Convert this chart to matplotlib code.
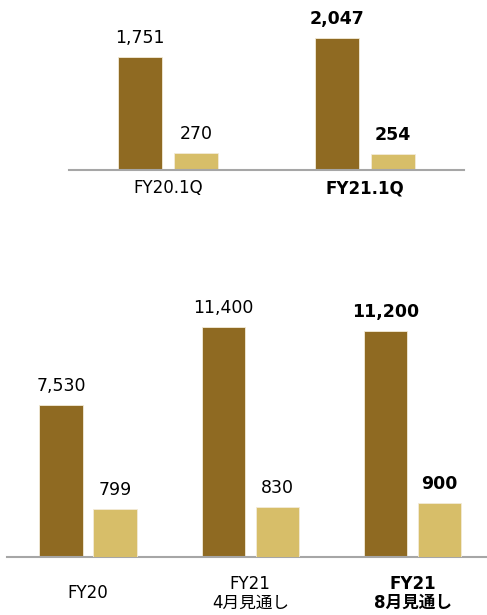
import numpy as np
import matplotlib.pyplot as plt
from matplotlib.transforms import blended_transform_factory

plt.rcParams['font.family'] = ['DejaVu Sans', 'Noto Sans CJK JP']

# top chart (quarter)
q_labels = ["FY20.1Q", "FY21.1Q"]
q_dark = [1751, 2047]
q_light = [270, 254]
q_bold = [False, True]

# bottom chart (full year)
y_labels = ["FY20", "FY21\n4月見通し", "FY21\n8月見通し"]
y_dark = [7530, 11400, 11200]
y_light = [799, 830, 900]
y_bold = [False, False, True]

dark = '#8F6A22'
light = '#D7BE69'
axis_grey = '#A6A6A6'

W, H = 487, 615
fig = plt.figure(figsize=(W / 100, H / 100), dpi=100)


def px_axes(left, right, base, top):
    return fig.add_axes([left / W, (H - base) / H, (right - left) / W, (base - top) / H])


def clean(ax):
    for s in ['top', 'right', 'left']:
        ax.spines[s].set_visible(False)
    ax.spines['bottom'].set_color(axis_grey)
    ax.spines['bottom'].set_linewidth(1.5)
    ax.set_yticks([])
    ax.set_xticks([])
    ax.patch.set_alpha(0)


def label(ax, x, v, bold):
    ax.annotate(f"{v:,}", (x, v), xytext=(0, 7), textcoords='offset points',
                ha='center', va='bottom', fontsize=12.5,
                fontweight='bold' if bold else 'normal', color='black')


# ---- top chart
ax1 = px_axes(69, 464, 170, 0)
clean(ax1)
x = np.arange(len(q_labels))
w, off = 0.226, 0.142
ax1.bar(x - off, q_dark, w, color=dark, edgecolor='#F3EBD8', linewidth=0.6)
ax1.bar(x + off, q_light, w, color=light, edgecolor='#F3EBD8', linewidth=0.6)
ax1.set_xlim(-0.5025, 1.5025)
ax1.set_ylim(0, 170 / 0.0645)
tr1 = blended_transform_factory(ax1.transData, ax1.transAxes)
for i in range(len(q_labels)):
    label(ax1, x[i] - off, q_dark[i], q_bold[i])
    label(ax1, x[i] + off, q_light[i], q_bold[i])
    ax1.annotate(q_labels[i], (x[i], 0), xycoords=tr1, xytext=(0, -13),
                 textcoords='offset points', ha='center', va='center',
                 fontsize=12, fontweight='bold' if q_bold[i] else 'normal')

# ---- bottom chart
ax2 = px_axes(7, 487, 557, 287)
clean(ax2)
ax3 = ax2.twinx()
clean(ax3)
ax3.spines['bottom'].set_visible(False)
x = np.arange(len(y_labels))
w, off = 0.267, 0.1664
ax2.bar(x - off, y_dark, w, color=dark, edgecolor='#F3EBD8', linewidth=0.6)
ax3.bar(x + off, y_light, w, color=light, edgecolor='#F3EBD8', linewidth=0.6)
ax2.set_xlim(-0.4992, 2.459)
ax3.set_xlim(-0.4992, 2.459)
ax2.set_ylim(0, 270 / 0.02018)
ax3.set_ylim(0, 270 / 0.060)
tr2 = blended_transform_factory(ax2.transData, ax2.transAxes)
for i in range(len(y_labels)):
    label(ax2, x[i] - off, y_dark[i], y_bold[i])
    label(ax3, x[i] + off, y_light[i], y_bold[i])
    ax2.annotate(y_labels[i], (x[i], 0), xycoords=tr2, xytext=(0, -26),
                 textcoords='offset points', ha='center', va='center',
                 fontsize=12, linespacing=1.05,
                 fontweight='bold' if y_bold[i] else 'normal')

fig.savefig('out.png', dpi=100, facecolor='white')
